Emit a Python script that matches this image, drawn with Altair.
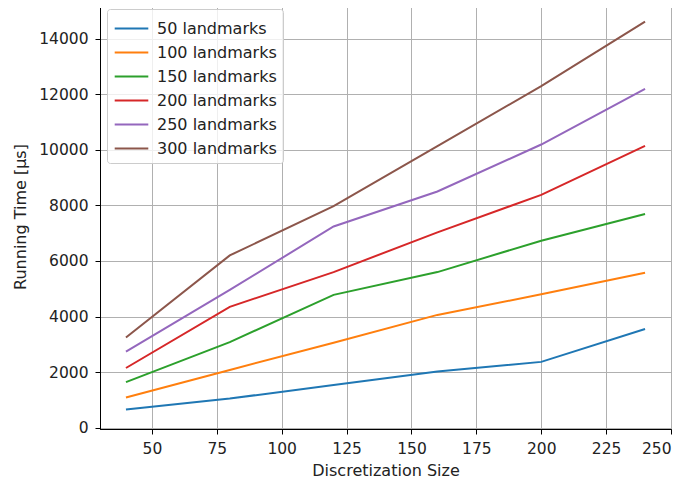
import altair as alt
import pandas as pd

x_vals = [40, 80, 120, 160, 200, 240]
series_names = ["50 landmarks", "100 landmarks", "150 landmarks",
                "200 landmarks", "250 landmarks", "300 landmarks"]
s50 = [660, 1050, 1540, 2020, 2370, 3550]
s100 = [1090, 2080, 3060, 4060, 4800, 5580]
s150 = [1640, 3080, 4780, 5600, 6730, 7690]
s200 = [2150, 4350, 5600, 7030, 8380, 10140]
s250 = [2740, 4960, 7240, 8500, 10190, 12190]
s300 = [3250, 6200, 7970, 10130, 12290, 14610]
colors = ["#1f77b4", "#ff7f0e", "#2ca02c", "#d62728", "#9467bd", "#8c564b"]
x_ticks = [50, 75, 100, 125, 150, 175, 200, 225, 250]
y_ticks = [0, 2000, 4000, 6000, 8000, 10000, 12000, 14000]

rows = []
for name, vals in zip(series_names, [s50, s100, s150, s200, s250, s300]):
    for xv, yv in zip(x_vals, vals):
        rows.append({"x": xv, "y": yv, "series": name})
df = pd.DataFrame(rows)

font = "DejaVu Sans"
txt = "#222222"

chart = alt.Chart(df).mark_line(strokeWidth=2).encode(
    x=alt.X("x:Q", title="Discretization Size",
            scale=alt.Scale(domain=[30, 250], nice=False, zero=False),
            axis=alt.Axis(values=x_ticks, format="d", labelPadding=7,
                          titleY=46.5, titleBaseline="alphabetic")),
    y=alt.Y("y:Q", title="Running Time [μs]",
            scale=alt.Scale(domain=[-45, 15245], nice=False, zero=False),
            axis=alt.Axis(values=y_ticks, format="d", labelPadding=7,
                          titleX=-75, titleBaseline="alphabetic")),
    color=alt.Color("series:N", sort=series_names,
                    scale=alt.Scale(domain=series_names, range=colors),
                    legend=alt.Legend(title=None, orient="none", legendX=7, legendY=5,
                                      symbolType="M-1.4,0H1.4", symbolSize=576,
                                      symbolOffset=5, symbolFillColor="transparent",
                                      symbolStrokeWidth=2.2, labelOffset=12,
                                      labelFontSize=16, labelFont=font,
                                      labelColor=txt, rowPadding=2,
                                      fillColor="rgba(255,255,255,0.8)",
                                      strokeColor="#cccccc",
                                      cornerRadius=3, padding=6)),
    detail="series:N",
).properties(
    width=571, height=425,
    autosize=alt.AutoSizeParams(type="none"),
    padding={"left": 92, "top": -4, "right": 5, "bottom": 55},
).configure_view(
    stroke="black", strokeWidth=1
).configure_axis(
    labelFont=font, titleFont=font, labelFontSize=15.5, titleFontSize=16,
    titleFontWeight="normal", labelColor=txt, titleColor=txt,
    grid=True, gridColor="#b0b0b0", gridWidth=1,
    domainColor="black", tickColor="black", tickSize=5,
)

chart.save("out.html", embed_options={"renderer": "svg", "actions": False})
